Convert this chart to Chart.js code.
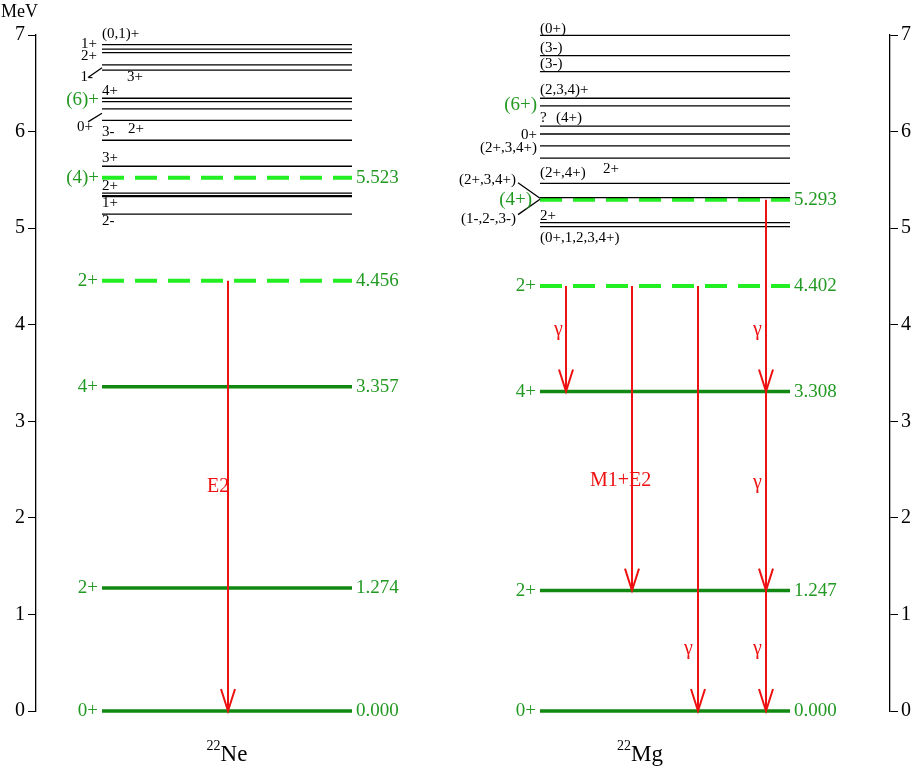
<!DOCTYPE html><html><head><meta charset="utf-8">
<script src="https://cdn.jsdelivr.net/npm/chart.js@4"></script>
<style>body{margin:0;background:#fff}#w{width:916px;height:772px}</style></head><body>
<div id="w"><canvas id="c"></canvas></div>
<script>
// x span of the level lines (pixel-like units from left axis)
const neSpan=[66,316], mgSpan=[504,754];
const neLevels=[5.146,5.326,5.336,5.363,5.641,5.910,6.116,6.235,6.311,6.345,6.636,6.691,6.818,6.854,6.900];
const mgLevels=[5.015,5.057,5.317,5.464,5.726,5.851,5.975,6.057,6.266,6.345,6.620,6.786,6.997];
const neMain=[0,1.274,3.357], neMainSpin=["0+","2+","4+"];
const neDashed=[4.456,5.523], neDashedSpin=["2+","(4)+"];
const mgMain=[0,1.247,3.308], mgMainSpin=["0+","2+","4+"];
const mgDashed=[4.402,5.293], mgDashedSpin=["2+","(4+)"];
const yTicks=[0,1,2,3,4,5,6,7];
// small labels: [text, x, energy, align, green]
const smallLabels=[
["(0,1)+",66,7.01,"left"],["1+",61,6.91,"right"],["2+",61,6.78,"right"],["1-",57,6.56,"right"],["3+",91,6.56,"left"],
["4+",66,6.42,"left"],["(6)+",63,6.33,"right",1],["0+",57,6.05,"right"],["3-",66,6.0,"left"],["2+",92,6.03,"left"],
["3+",66,5.73,"left"],["2+",66,5.44,"left"],["1+",66,5.26,"left"],["2-",66,5.07,"left"],
["(0+)",504,7.06,"left"],["(3-)",504,6.86,"left"],["(3-)",504,6.70,"left"],["(2,3,4)+",504,6.43,"left"],
["(6+)",501,6.28,"right",1],["?",504,6.14,"left"],["(4+)",520,6.14,"left"],["0+",501,5.96,"right"],
["(2+,3,4+)",501,5.83,"right"],["(2+,4+)",504,5.57,"left"],["2+",567,5.61,"left"],["(2+,3,4+)",480,5.50,"right"],
["(1-,2-,3-)",480,5.09,"right"],["2+",504,5.12,"left"],["(0+,1,2,3,4+)",504,4.90,"left"]];
const diagonals=[[52,6.56,66,6.66],[52,6.10,66,6.19],[482,5.47,504,5.31],[482,5.14,504,5.30]];
// arrows: [x, from, [head energies]]
const arrows=[[192,4.456,[0]],[530,4.402,[3.308]],[596,4.402,[1.247]],[662,4.402,[0]],[730,5.293,[3.308,1.247,0]]];
const redLabels=[["E2",171,2.32],["γ",518,3.95],["M1+E2",554,2.38],["γ",648,0.64],["γ",717,3.95],["γ",717,2.36],["γ",717,0.64]];

const ds=[];
function lvl(E,span,color,w,dash){ds.push({data:[{x:span[0],y:E},{x:span[1],y:E}],borderColor:color,borderWidth:w,borderDash:dash||[],pointRadius:0,showLine:true,fill:false,clip:false});}
neLevels.forEach(E=>lvl(E,neSpan,"#000",1.3));
mgLevels.forEach(E=>lvl(E,mgSpan,"#000",1.3));
neMain.forEach(E=>lvl(E,neSpan,"#118811",3.5));
mgMain.forEach(E=>lvl(E,mgSpan,"#118811",3.5));
neDashed.forEach(E=>lvl(E,neSpan,"#22ee22",4,[22,11]));
mgDashed.forEach(E=>lvl(E,mgSpan,"#22ee22",4,[22,11]));

const G="#229922";
const plug={id:"ann",afterDatasetsDraw(ch){
 const c=ch.ctx,X=ch.scales.x,Y=ch.scales.y;const px=v=>X.getPixelForValue(v),py=v=>Y.getPixelForValue(v);
 c.save();c.textBaseline="middle";
 smallLabels.forEach(l=>{c.fillStyle=l[4]?G:"#000";c.font=l[4]?"19px 'Liberation Serif'":"15px 'Liberation Serif'";c.textAlign=l[3];c.fillText(l[0],px(l[1]),py(l[2]));});
 c.strokeStyle="#000";c.lineWidth=1.3;
 diagonals.forEach(d=>{c.beginPath();c.moveTo(px(d[0]),py(d[1]));c.lineTo(px(d[2]),py(d[3]));c.stroke();});
 c.font="19px 'Liberation Serif'";c.fillStyle=G;
 const side=(arr,sp,span)=>arr.forEach((E,i)=>{c.textAlign="right";c.fillText(sp[i],px(span[0])-4,py(E));c.textAlign="left";c.fillText(E.toFixed(3),px(span[1])+4,py(E));});
 side(neMain,neMainSpin,neSpan);side(mgMain,mgMainSpin,mgSpan);
 side([neDashed[0]],[neDashedSpin[0]],neSpan);side([mgDashed[0]],[mgDashedSpin[0]],mgSpan);
 c.textAlign="right";c.fillText(neDashedSpin[1],px(neSpan[0])-3,py(neDashed[1]));c.fillText(mgDashedSpin[1],px(mgSpan[0])-8,py(mgDashed[1]));
 c.textAlign="left";c.fillText(neDashed[1].toFixed(3),px(neSpan[1])+4,py(neDashed[1]));c.fillText(mgDashed[1].toFixed(3),px(mgSpan[1])+4,py(mgDashed[1]));
 c.strokeStyle="#ee1111";c.lineWidth=2;
 arrows.forEach(a=>{const x=px(a[0]);const lo=Math.min(...a[2]);c.beginPath();c.moveTo(x,py(a[1]));c.lineTo(x,py(lo));c.stroke();
  a[2].forEach(h=>{const y=py(h);c.beginPath();c.moveTo(x-7,y-22);c.lineTo(x,y);c.lineTo(x+7,y-22);c.stroke();});});
 c.fillStyle="#ee1111";c.font="20px 'Liberation Serif'";c.textAlign="left";
 redLabels.forEach(l=>c.fillText(l[0],px(l[1]),py(l[2])));
 c.fillStyle="#000";c.textAlign="left";c.font="18px 'Liberation Serif'";c.fillText("MeV",px(-35),py(7.24));
 const iso=(sup,el,x)=>{c.font="14px 'Liberation Serif'";const w=c.measureText(sup).width;c.font="23px 'Liberation Serif'";const w2=c.measureText(el).width;const x0=px(x)-(w+w2)/2;
  c.font="14px 'Liberation Serif'";c.fillText(sup,x0,py(-0.37));c.font="23px 'Liberation Serif'";c.fillText(el,x0+w,py(-0.46));};
 iso("22","Ne",191);iso("22","Mg",604);
 c.restore();}};

new Chart(document.getElementById("c"),{type:"scatter",data:{datasets:ds},plugins:[plug],
options:{responsive:true,maintainAspectRatio:false,animation:false,layout:{padding:{top:35,bottom:61,left:0,right:0}},
plugins:{legend:{display:false},tooltip:{enabled:false}},
scales:{x:{type:"linear",min:0,max:854,display:false},
y:{position:"left",min:0,max:7,afterFit:s=>{s.width=36},afterBuildTicks:s=>{s.ticks=yTicks.map(v=>({value:v}))},
 grid:{drawOnChartArea:false,drawTicks:true,tickLength:8,color:"#000"},border:{color:"#000",width:1.3},ticks:{color:"#000",font:{family:"Liberation Serif",size:20},padding:3}},
y2:{position:"right",min:0,max:7,afterFit:s=>{s.width=26},afterBuildTicks:s=>{s.ticks=yTicks.map(v=>({value:v}))},
 grid:{drawOnChartArea:false,drawTicks:true,tickLength:8,color:"#000"},border:{color:"#000",width:1.3},ticks:{color:"#000",font:{family:"Liberation Serif",size:20},padding:3}}}}});
</script></body></html>
